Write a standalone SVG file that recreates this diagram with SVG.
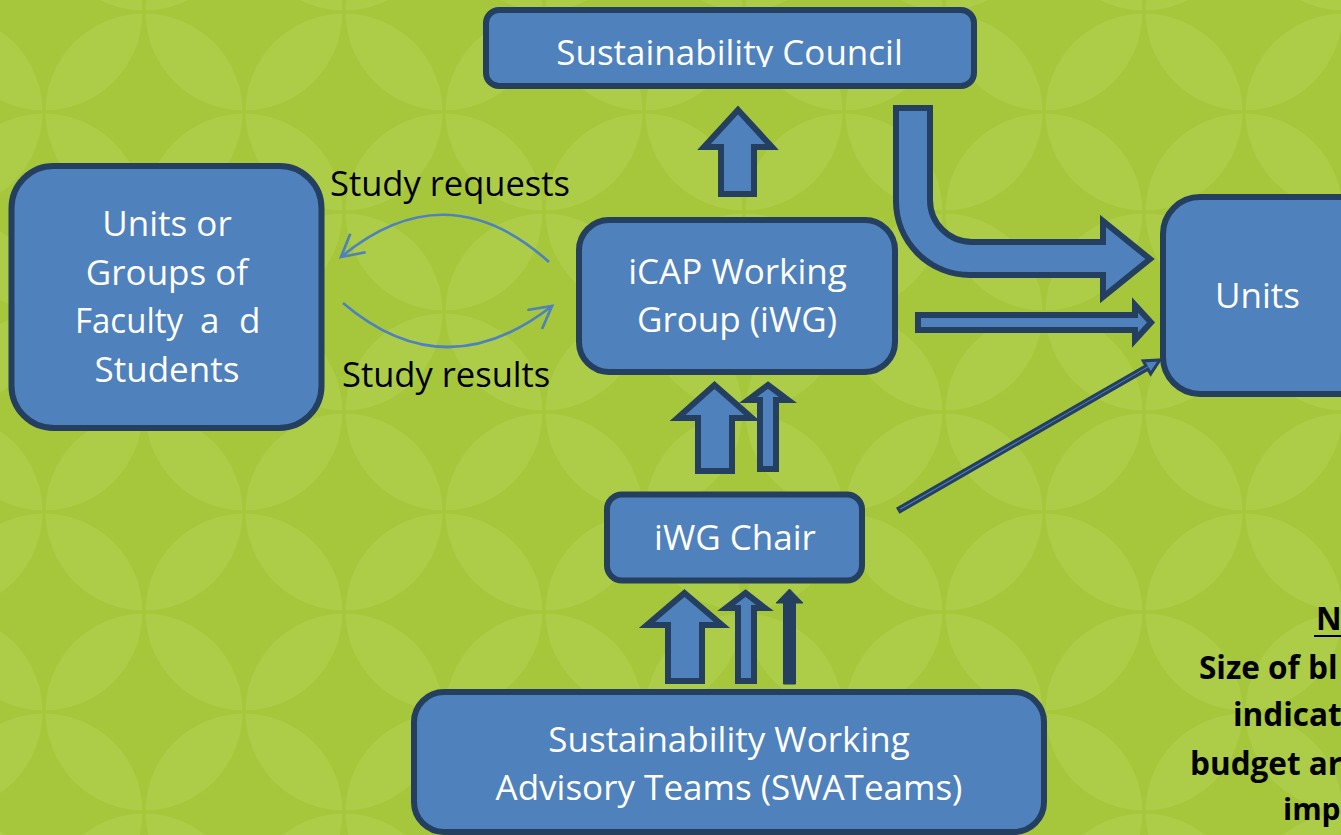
<svg xmlns="http://www.w3.org/2000/svg" width="1341" height="835" viewBox="0 0 1341 835">
<style>
.box{fill:#4F81BD;stroke:#243F60;stroke-width:6}
.blk{fill:#4F81BD;stroke:#243F60;stroke-width:6;stroke-linejoin:miter;stroke-miterlimit:10}
.wt{fill:#FFFFFF;font-family:"Open Sans","Noto Sans","DejaVu Sans",sans-serif;font-size:35px;text-anchor:middle}
.lbl{fill:#000000;font-family:"Open Sans","Noto Sans","DejaVu Sans",sans-serif;font-size:34.5px}
.note{fill:#000000;font-family:"Open Sans","Noto Sans","DejaVu Sans",sans-serif;font-size:31.5px;font-weight:bold}
.thin{fill:none;stroke:#4F81BD;stroke-width:2.7}
</style>
<defs>
<pattern id="bgpat" x="44" y="12" width="200" height="200" patternUnits="userSpaceOnUse">
<g fill="#ADCD48" stroke="#A6C73B" stroke-width="3">
<path d="M100,0 A100,100 0 0 1 0,100 A100,100 0 0 1 100,0 Z"/>
<path d="M100,0 A100,100 0 0 1 200,100 A100,100 0 0 1 100,0 Z"/>
<path d="M0,100 A100,100 0 0 1 100,200 A100,100 0 0 1 0,100 Z"/>
<path d="M200,100 A100,100 0 0 1 100,200 A100,100 0 0 1 200,100 Z"/>
</g>
</pattern>
<clipPath id="clipCouncil"><rect x="480" y="0" width="500" height="67"/></clipPath>
<marker id="vhead" viewBox="0 0 30 26" markerWidth="30" markerHeight="26" refX="26" refY="13" orient="auto" markerUnits="userSpaceOnUse">
<path d="M4,1 L26,13 L4,25" fill="none" stroke="#4F81BD" stroke-width="2.7"/>
</marker>
</defs>

<rect x="0" y="0" width="1341" height="835" fill="#A6C73B"/>
<rect x="0" y="0" width="1341" height="835" fill="url(#bgpat)"/>

<g id="connectors">
<path class="blk" d="M738,110 L772,147 L754,147 L754,194 L721,194 L721,147 L704,147 Z"/>
<path class="blk" d="M896,108 L930,108 L930,200 A42,42 0 0 0 972,242 L1103,242 L1103,221 L1150,259 L1103,297 L1103,275 L970,275 A74,74 0 0 1 896,201 Z"/>
<path class="blk" d="M918,315 L1135,315 L1135,305 L1151,322.5 L1135,340 L1135,330 L918,330 Z"/>
<g transform="translate(899,510) rotate(-29.9)">
<path d="M0,-2 L286,-2 L286,-7.5 L301,0 L286,7.5 L286,2 L0,2 Z" fill="#4F81BD" stroke="#243F60" stroke-width="3"/>
</g>
<path class="blk" d="M714.5,385 L752,418 L732,418 L732,471 L698,471 L698,418 L677.5,418 Z"/>
<path class="blk" d="M768,385 L788,400 L776,400 L776,469 L760,469 L760,400 L748,400 Z"/>
<path class="blk" d="M684.5,593 L722,625 L702,625 L702,681 L668,681 L668,625 L647,625 Z"/>
<path class="blk" d="M745.5,593 L765,608 L754,608 L754,681 L738,681 L738,608 L726,608 Z"/>
<path d="M789.5,589 L803,603 L795.5,603 L795.5,684 L783.5,684 L783.5,603 L776,603 Z" fill="#243F60" stroke="#243F60" stroke-width="1"/>
<path class="thin" d="M549,262 C480,200 410,200 341,257" marker-end="url(#vhead)"/>
<path class="thin" d="M343,303 C410,360 480,362 552,306" marker-end="url(#vhead)"/>
<text class="lbl" x="330" y="196">Study requests</text>
<text class="lbl" x="342" y="387">Study results</text>
</g>

<g id="council">
<rect class="box" x="486" y="10" width="488" height="76" rx="13"/>
<text class="wt" x="729.5" y="65" clip-path="url(#clipCouncil)">Sustainability Council</text>
</g>

<g id="units-groups">
<rect class="box" x="11.5" y="166" width="310" height="262" rx="42"/>
<text class="wt" x="167" y="236">Units or</text>
<text class="wt" x="167" y="285">Groups of</text>
<text class="wt" y="333" style="text-anchor:start"><tspan x="75" textLength="108" lengthAdjust="spacingAndGlyphs">Faculty</tspan> <tspan x="200">a </tspan><tspan x="239">d</tspan></text>
<text class="wt" x="167" y="382">Students</text>
</g>

<g id="icap">
<rect class="box" x="579" y="220" width="316" height="152" rx="30"/>
<text class="wt" x="737.5" y="284">iCAP Working</text>
<text class="wt" x="737" y="332">Group (iWG)</text>
</g>

<g id="units">
<rect class="box" x="1163" y="197" width="220" height="197" rx="37"/>
<text class="wt" x="1257.5" y="308">Units</text>
</g>

<g id="iwg-chair">
<rect class="box" x="607" y="494.5" width="255" height="86" rx="15"/>
<text class="wt" x="735" y="550">iWG Chair</text>
</g>

<g id="swateams">
<rect class="box" x="414" y="692" width="630" height="140" rx="30"/>
<text class="wt" x="729" y="752">Sustainability Working</text>
<text class="wt" x="729" y="800">Advisory Teams (SWATeams)</text>
</g>

<g id="note">
<text class="note" x="1316" y="630">N</text>
<line x1="1314" y1="636" x2="1341" y2="636" stroke="#000000" stroke-width="2"/>
<text class="note" x="1199" y="679">Size of bl</text>
<text class="note" x="1233" y="726">indicat</text>
<text class="note" x="1190" y="775">budget ar</text>
<text class="note" x="1283" y="820" style="font-size:30px">imp</text>
</g>
</svg>
